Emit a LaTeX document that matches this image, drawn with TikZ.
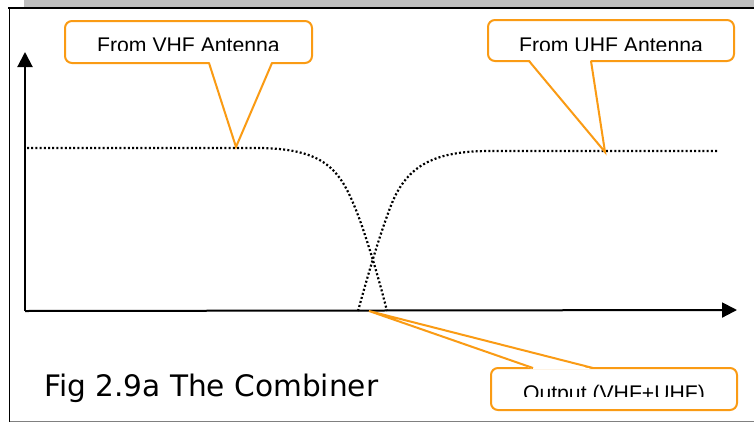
\documentclass[tikz,border=0pt]{standalone}
\usepackage{fontspec}
\setmainfont{Liberation Sans}
\newfontfamily\capfont{DejaVu Sans}
\usetikzlibrary{arrows.meta}
\definecolor{callorange}{RGB}{250,155,20}
\definecolor{bargray}{RGB}{191,191,191}
\begin{document}
\begin{tikzpicture}[x=1pt,y=-1pt,
  callbox/.style={draw=callorange, line width=2pt, rounded corners=7pt, fill=white, inner sep=0pt},
  calltext/.style={font=\fontsize{21.2}{25}\selectfont, anchor=base, inner sep=0pt},
  pointer/.style={draw=callorange, line width=2pt, line join=miter},
  pointerfill/.style={fill=white},
  curve/.style={line width=2.2pt, dash pattern=on 2pt off 2.2pt},
  axis/.style={line width=2pt, -{Triangle[length=15pt,width=15pt]}}]
\useasboundingbox (0,0) rectangle (754,423);
\fill[white] (0,0) rectangle (754,423);
% frame
\fill[bargray] (24,0) rectangle (754,6.5);
\draw[line width=2pt] (8,7.5) -- (754,7.5);
\draw[line width=1.5pt] (9.5,7.5) -- (9.5,421.5);
\draw[gray, line width=1.5pt] (9.5,421.5) -- (754,421.5);
% axes
\coordinate (O) at (25,311);
\coordinate (ytip) at (25,52);
\coordinate (xtip) at (737,310);
\draw[axis] (O) -- (ytip);
\draw[axis] (O) -- (xtip);
% response curves
\draw[curve] (27,148) -- (260,148) .. controls (325,149) and (340,170) .. (356,210)
   .. controls (365,232.5) and (378,275) .. (387,311);
\draw[curve] (358,311) .. controls (368,275) and (378,240) .. (390,208)
   .. controls (405,168) and (430,151) .. (490,151) -- (718,151);
% callout boxes
\node[callbox, minimum width=247pt, minimum height=42pt] (vhf) at (188.5,42) {};
\node[callbox, minimum width=246pt, minimum height=41pt] (uhf) at (611,40.5) {};
\node[callbox, minimum width=246pt, minimum height=42pt] (out) at (614,389) {};
% pointers
\coordinate (vhftip) at (236,147);
\coordinate (vhfa) at (209,63);
\coordinate (vhfb) at (272,63);
\fill[pointerfill] (209.5,61.8) -- (271.5,61.8) -- (vhftip) -- cycle;
\draw[pointer] (vhfa) -- (vhftip) -- (vhfb);
\coordinate (uhftip) at (605,152);
\coordinate (uhfa) at (529,61);
\coordinate (uhfb) at (591,61);
\fill[pointerfill] (529.5,59.8) -- (590.5,59.8) -- (uhftip) -- cycle;
\draw[pointer] (uhfa) -- (uhftip) -- (uhfb);
\coordinate (outtip) at (369,311);
\coordinate (outa) at (533,368);
\coordinate (outb) at (593,368);
\fill[pointerfill] (533.5,369.2) -- (592.5,369.2) -- (outtip) -- cycle;
\draw[pointer] (outa) -- (outtip) -- (outb);
% clipped callout texts
\begin{scope}
  \clip (60,0) rectangle (320,50.5);
  \node[calltext] (vhftext) at (188.5,52.5) {From VHF Antenna};
\end{scope}
\begin{scope}
  \clip (480,0) rectangle (740,50.5);
  \node[calltext] (uhftext) at (611,52.5) {From UHF Antenna};
\end{scope}
\begin{scope}
  \clip (485,360) rectangle (740,396.5);
  \node[calltext] (outtext) at (614,400.5) {Output (VHF+UHF)};
\end{scope}
% caption
\node[font=\capfont\fontsize{29.6}{35}\selectfont, anchor=base west, inner sep=0pt] (caption) at (44,396) {Fig 2.9a The Combiner};
\end{tikzpicture}
\end{document}
